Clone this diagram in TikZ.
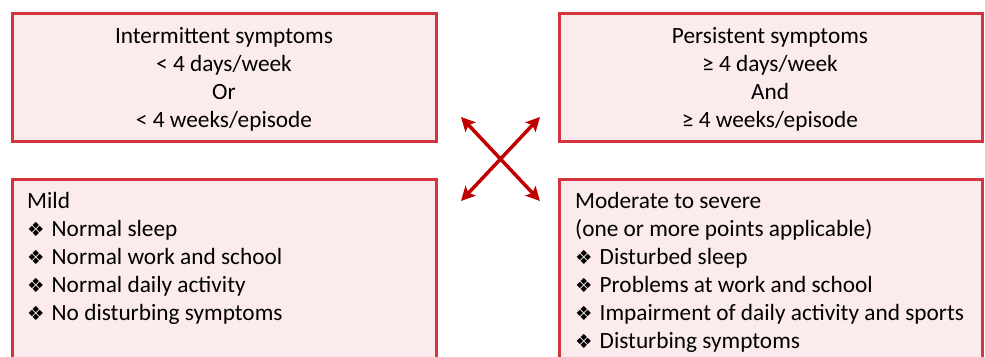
\documentclass[tikz,border=0pt]{standalone}
\usepackage{fontspec}
\setmainfont{Carlito}
\newfontfamily\dejavu{DejaVu Sans}
\usetikzlibrary{arrows.meta}
\definecolor{boxborder}{RGB}{212,52,62}
\definecolor{boxfill}{RGB}{251,235,236}
\definecolor{arrowred}{RGB}{192,0,0}
\newcommand{\bul}{{\dejavu\fontsize{19.5}{19}\selectfont ❖}\hspace{7pt}}
\tikzset{
  panel/.style={draw=boxborder, fill=boxfill, line width=3pt, inner sep=0pt},
  txt/.style={inner sep=0pt, font=\fontsize{23.3}{28}\selectfont},
  dbl/.style={arrowred, line width=3.5pt, {Stealth[length=14pt,width=14pt,inset=3pt]}-{Stealth[length=14pt,width=14pt,inset=3pt]}}
}
\begin{document}
\begin{tikzpicture}[x=1pt,y=-1pt]
\useasboundingbox (0,0) rectangle (985,356);
\clip (0,0) rectangle (985,356);
% boxes
\draw[panel] (12.5,13.5) rectangle (436,141);
\draw[panel] (559,13.5) rectangle (982.5,141);
\draw[panel] (12.5,179.5) rectangle (436,380);
\draw[panel] (559,179.5) rectangle (982.5,380);
% texts
\node[txt, align=center, anchor=north] (tl) at (224,27) {Intermittent symptoms\\ \textless{} 4 days/week\\ Or\\ \textless{} 4 weeks/episode};
\node[txt, align=center, anchor=north] (tr) at (770,27) {Persistent symptoms\\ ≥ 4 days/week\\ And\\ ≥ 4 weeks/episode};
\node[txt, align=left, anchor=north west] (bl) at (27,192) {Mild\\ \bul Normal sleep\\ \bul Normal work and school\\ \bul Normal daily activity\\ \bul No disturbing symptoms};
\node[txt, align=left, anchor=north west] (br) at (575,192) {Moderate to severe\\ (one or more points applicable)\\ \bul Disturbed sleep\\ \bul Problems at work and school\\ \bul Impairment of daily activity and sports\\ \bul Disturbing symptoms};
% arrows
\coordinate (a1) at (461,117);
\coordinate (a2) at (540,201);
\coordinate (b1) at (540,117);
\coordinate (b2) at (461,201);
\draw[dbl] (a1) -- (a2);
\draw[dbl] (b1) -- (b2);
\end{tikzpicture}
\end{document}
